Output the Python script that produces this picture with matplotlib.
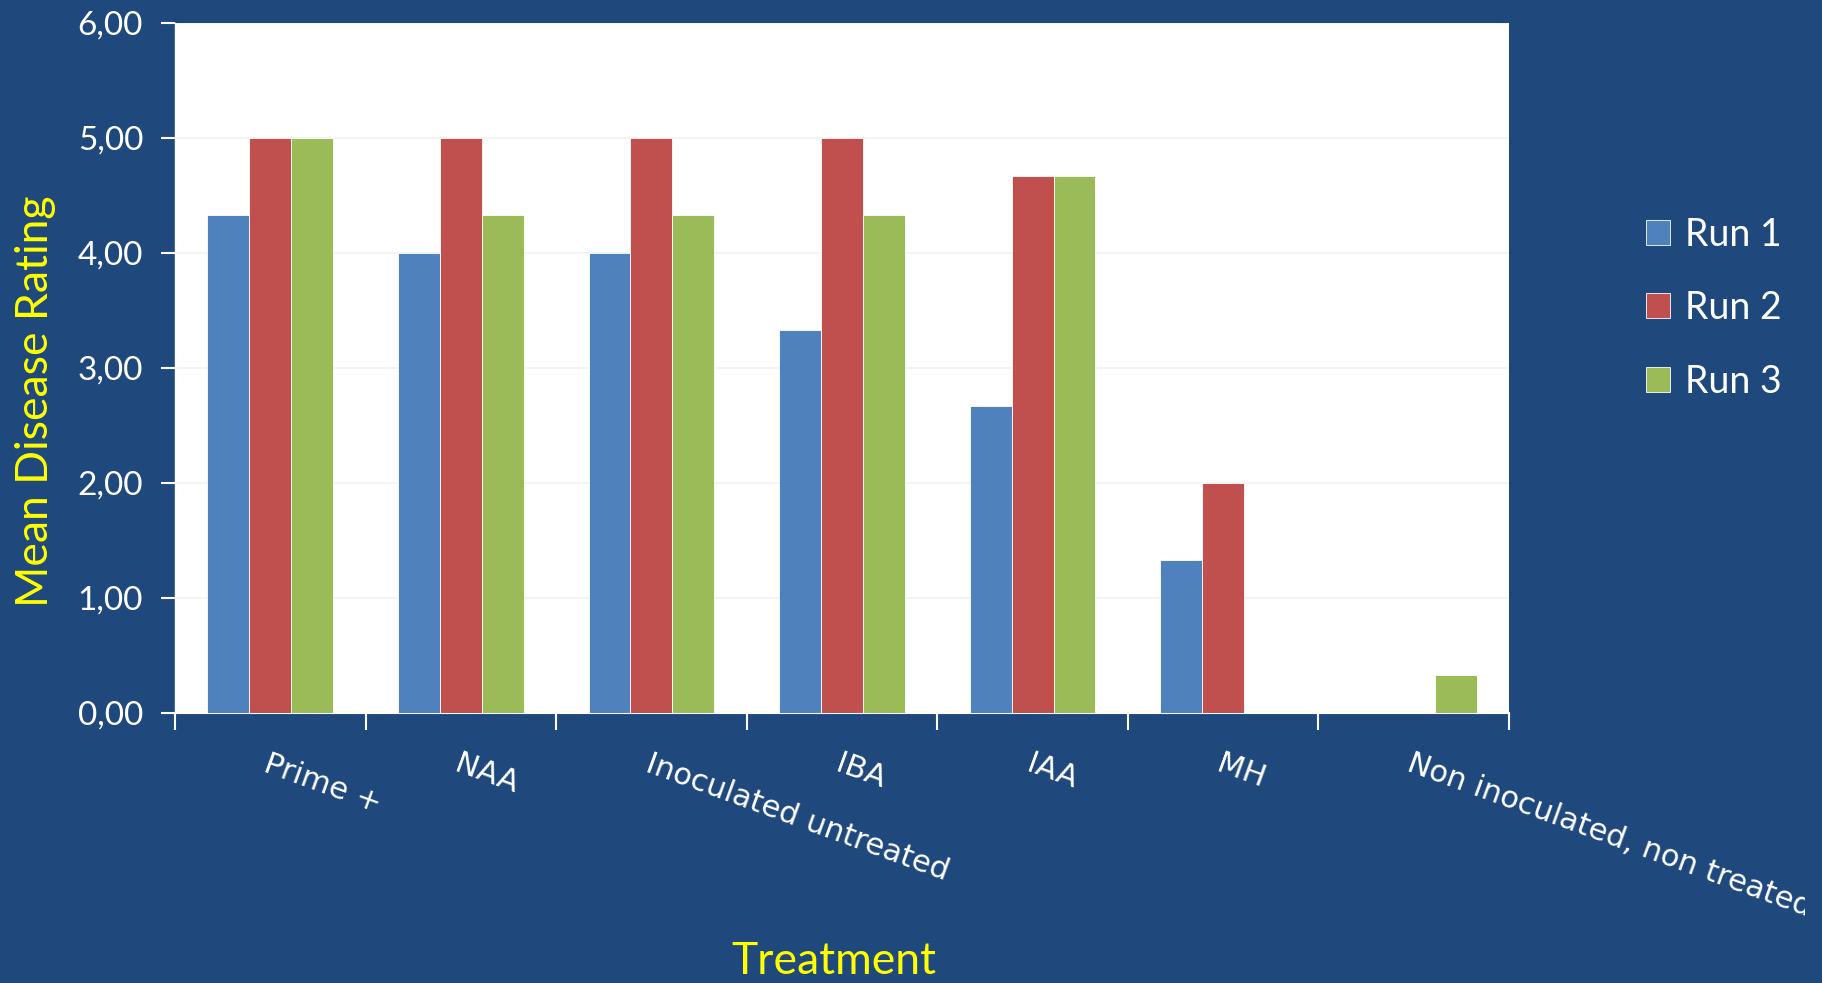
import matplotlib
matplotlib.use('Agg')
import matplotlib.pyplot as plt
import numpy as np
from matplotlib.transforms import Bbox, TransformedBbox
from matplotlib.ticker import FuncFormatter

treatments = ['Prime +', 'NAA', 'Inoculated untreated', 'IBA', 'IAA', 'MH',
              'Non inoculated, non treated']
run1 = [4.33, 4.00, 4.00, 3.33, 2.67, 1.33, 0.0]
run2 = [5.00, 5.00, 5.00, 5.00, 4.67, 2.00, 0.0]
run3 = [5.00, 4.33, 4.33, 4.33, 4.67, 0.0, 0.33]
series_names = ['Run 1', 'Run 2', 'Run 3']
colors = ['#4F81BD', '#C0504D', '#9BBB59']

bg = '#1F497D'

fig = plt.figure(figsize=(18.22, 9.83), dpi=100, facecolor=bg)
ax = fig.add_axes([175 / 1822, 1 - 713 / 983, (1509 - 175) / 1822, (713 - 23) / 983])
ax.set_facecolor('white')

x = np.arange(len(treatments))
w = 0.22
for i, (vals, name, c) in enumerate(zip([run1, run2, run3], series_names, colors)):
    ax.bar(x + (i - 1) * w, vals, width=w, color=c, label=name,
           edgecolor='white', linewidth=0.6, zorder=3)

ax.set_xlim(-0.5, len(treatments) - 0.5)
ax.set_ylim(0, 6)
ax.set_yticks(np.arange(0, 7, 1))
ax.yaxis.set_major_formatter(FuncFormatter(lambda v, p: f'{v:.2f}'.replace('.', ',')))
ax.grid(axis='y', color='#F2F2F2', linewidth=1.2, zorder=0)

# ticks on category boundaries, labels at category centres
ax.set_xticks(np.arange(-0.5, len(treatments), 1), minor=False)
ax.set_xticklabels([''] * (len(treatments) + 1))
ax.set_xticks(x, minor=True)
ax.set_xticklabels(treatments, minor=True)
ax.tick_params(axis='x', which='major', length=12, width=1.5, color='white', direction='out')
ax.tick_params(axis='x', which='minor', length=0, pad=26, labelcolor='white', labelsize=22)
ax.tick_params(axis='y', length=10, width=1.5, color='white', pad=13, labelcolor='white',
               labelsize=24)
for lab in ax.get_yticklabels():
    lab.set_family('Lato')

clip = TransformedBbox(Bbox([[0, 0], [1805 / 1822, 1]]), fig.transFigure)
for lab in ax.get_xticklabels(minor=True):
    lab.set_rotation(-20)
    lab.set_ha('left')
    lab.set_va('top')
    lab.set_rotation_mode('anchor')
    lab.set_family('DejaVu Sans')
    lab.set_clip_box(clip)
    lab.set_clip_on(True)

for s in ['top', 'right']:
    ax.spines[s].set_visible(False)
ax.spines['left'].set_color('white')
ax.spines['bottom'].set_color('white')
ax.spines['bottom'].set_linewidth(1.5)
ax.spines['left'].set_linewidth(1.0)

fig.text(36 / 1822, 1 - 401 / 983, 'Mean Disease Rating', rotation=90, color='yellow',
         fontsize=32, family='Lato', ha='center', va='center')
fig.text(834 / 1822, 1 - 962 / 983, 'Treatment', color='yellow', fontsize=32,
         family='Lato', ha='center', va='center')

leg = fig.legend(loc='center left', bbox_to_anchor=(1612 / 1822, 1 - 308 / 983),
                 frameon=False, labelcolor='white', handlelength=0.65,
                 handleheight=0.65, handletextpad=0.4, labelspacing=1.0,
                 prop={'family': 'Lato', 'size': 27})

fig.savefig('out.png', dpi=100, facecolor=bg)
